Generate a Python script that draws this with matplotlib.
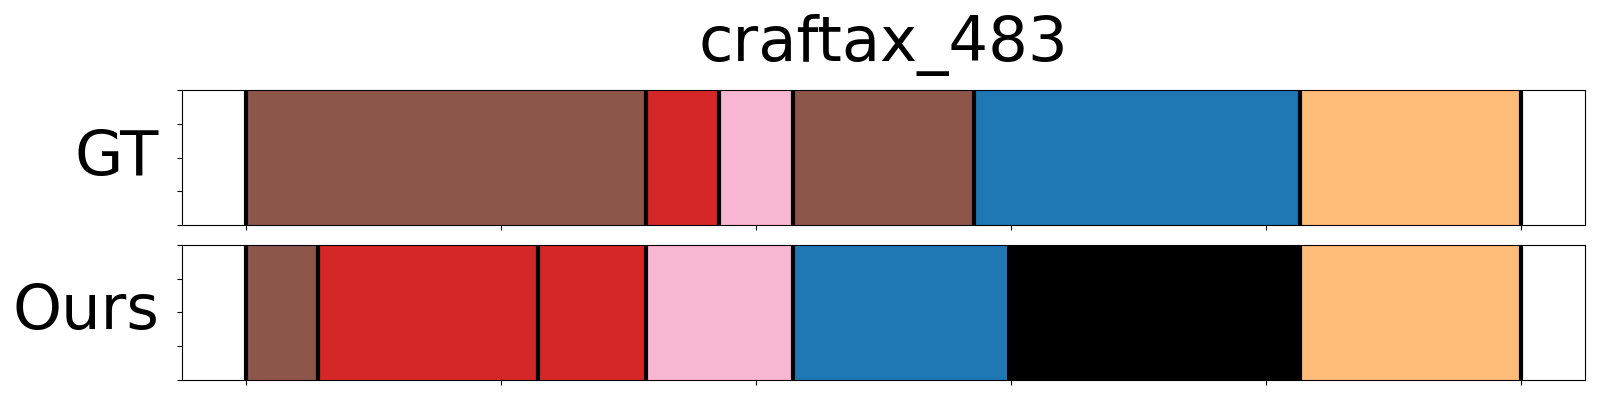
import matplotlib
matplotlib.use("Agg")
import matplotlib.pyplot as plt

# segment boundaries (frame index) and colours for each row
gt_bounds = [0, 314, 371, 429, 571, 827, 1000]
gt_colors = ["#8c564b", "#d62728", "#f7b6d2", "#8c564b", "#1f77b4", "#ffbb78"]
gt_lines = [0, 314, 371, 429, 571, 827, 1000]

ours_bounds = [0, 57, 229, 314, 429, 597, 827, 1000]
ours_colors = ["#8c564b", "#d62728", "#d62728", "#f7b6d2", "#1f77b4", "#000000", "#ffbb78"]
ours_lines = [0, 57, 229, 314, 429, 827, 1000]

title = "craftax_483"
row_names = ["GT", "Ours"]


def draw_row(ax, bounds, colors, lines, name):
    starts = bounds[:-1]
    widths = [b - a for a, b in zip(bounds[:-1], bounds[1:])]
    ax.bar(starts, 1, width=widths, align="edge", color=colors, linewidth=0)
    for x in lines:
        ax.axvline(x, color="black", linewidth=3)
    ax.set_ylim(0, 1)
    ax.set_xticks(range(0, 1001, 200))
    ax.set_yticks([0, 0.25, 0.5, 0.75, 1.0])
    ax.set_xticklabels([])
    ax.set_yticklabels([])
    ax.text(-0.016, 0.5, name, transform=ax.transAxes, ha="right", va="center", fontsize=45)


fig, axes = plt.subplots(2, 1, figsize=(16, 4), dpi=100)
fig.subplots_adjust(left=0.1136, right=0.9906, top=0.775, bottom=0.05, hspace=0.148)

draw_row(axes[0], gt_bounds, gt_colors, gt_lines, row_names[0])
draw_row(axes[1], ours_bounds, ours_colors, ours_lines, row_names[1])
axes[0].set_title(title, fontsize=45, pad=21)

fig.savefig("out.png", dpi=100)
